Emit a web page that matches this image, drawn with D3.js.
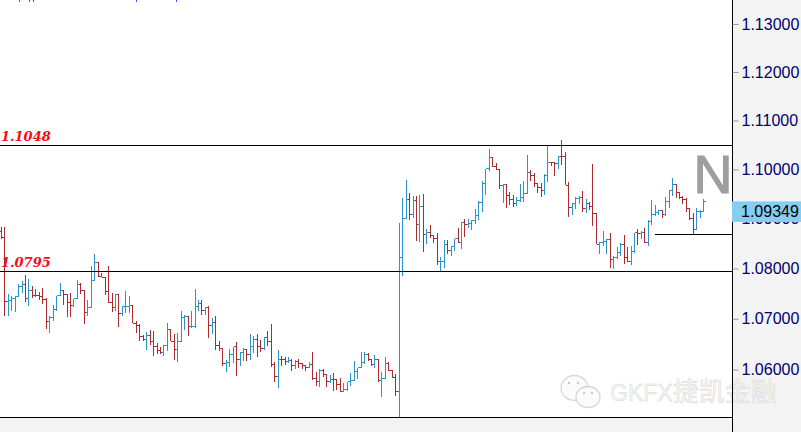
<!DOCTYPE html>
<html>
<head>
<meta charset="utf-8">
<script src="https://cdn.jsdelivr.net/npm/d3@7"></script>
<style>
  html, body { margin: 0; padding: 0; background: #f3f3f3; overflow: hidden; }
  svg { display: block; }
  .axis text { font-family: "Liberation Sans", Arial, sans-serif; font-size: 16px; fill: #000070; }
  .axis .tick line { stroke: #999; }
  .axis .domain { stroke: #000; }
</style>
</head>
<body>
<svg id="chart" width="801" height="432"></svg>
<script>
var opens = [
  1.0875,1.0862,1.0734,1.0736,1.0740,1.0744,1.0764,1.0768,1.0740,1.0756,
  1.0747,1.0746,1.0744,1.0739,1.0694,1.0702,1.0718,1.0746,1.0757,1.0748,
  1.0732,1.0726,1.0740,1.0768,1.0756,1.0712,1.0723,1.0777,1.0812,1.0784,
  1.0783,1.0755,1.0733,1.0723,1.0749,1.0710,1.0724,1.0725,1.0727,1.0691,
  1.0687,1.0665,1.0660,1.0667,1.0655,1.0645,1.0637,1.0633,1.0648,1.0679,
  1.0656,1.0639,1.0656,1.0702,1.0705,1.0684,1.0684,1.0724,1.0731,1.0716,
  1.0722,1.0687,1.0692,1.0648,1.0642,1.0611,1.0614,1.0629,1.0645,1.0619,
  1.0634,1.0639,1.0629,1.0645,1.0660,1.0645,1.0641,1.0662,1.0656,1.0609,
  1.0587,1.0620,1.0619,1.0616,1.0617,1.0607,1.0616,1.0611,1.0607,1.0604,
  1.0609,1.0582,1.0577,1.0598,1.0591,1.0577,1.0581,1.0580,1.0571,1.0557,
  1.0561,1.0576,1.0579,1.0596,1.0603,1.0613,1.0629,1.0619,1.0609,1.0619,
  1.0578,1.0583,1.0611,1.0599,1.0585,1.0557,1.0823,1.0900,1.0939,1.0908,
  1.0937,1.0888,1.0924,1.0868,1.0872,1.0866,1.0860,1.0815,1.0815,1.0849,
  1.0836,1.0845,1.0860,1.0852,1.0893,1.0888,1.0890,1.0896,1.0906,1.0932,
  1.0972,1.1001,1.1024,1.1005,1.1000,1.0967,1.0970,1.0947,1.0939,1.0931,
  1.0936,1.0943,1.0951,1.0993,1.0987,1.0972,1.0964,1.0957,1.0988,1.1014,
  1.1013,1.1012,1.1027,1.1026,1.0968,1.0922,1.0930,1.0941,1.0942,1.0920,
  1.0930,1.0924,1.0910,1.0849,1.0853,1.0855,1.0858,1.0819,1.0822,1.0833,
  1.0849,1.0822,1.0815,1.0835,1.0872,1.0871,1.0873,1.0853,1.0895,1.0909,
  1.0912,1.0917,1.0908,1.0935,1.0957,1.0970,1.0954,1.0942,1.0939,1.0920,
  1.0900,1.0879,1.0914,1.0915
]
var highs = [
  1.0884,1.0883,1.0749,1.0746,1.0746,1.0769,1.0776,1.0788,1.0779,1.0766,
  1.0759,1.0753,1.0761,1.0741,1.0705,1.0728,1.0746,1.0771,1.0757,1.0749,
  1.0752,1.0740,1.0777,1.0772,1.0757,1.0738,1.0805,1.0829,1.0813,1.0792,
  1.0784,1.0806,1.0752,1.0749,1.0749,1.0726,1.0756,1.0745,1.0728,1.0695,
  1.0689,1.0667,1.0674,1.0677,1.0676,1.0652,1.0644,1.0648,1.0691,1.0680,
  1.0670,1.0671,1.0716,1.0708,1.0705,1.0715,1.0759,1.0738,1.0738,1.0723,
  1.0726,1.0702,1.0706,1.0657,1.0642,1.0619,1.0640,1.0645,1.0655,1.0635,
  1.0642,1.0641,1.0669,1.0665,1.0670,1.0658,1.0664,1.0675,1.0689,1.0614,
  1.0639,1.0627,1.0625,1.0624,1.0621,1.0619,1.0621,1.0612,1.0607,1.0615,
  1.0635,1.0595,1.0601,1.0601,1.0591,1.0589,1.0593,1.0581,1.0583,1.0574,
  1.0576,1.0593,1.0617,1.0603,1.0635,1.0635,1.0632,1.0619,1.0629,1.0619,
  1.0596,1.0625,1.0615,1.0599,1.0591,1.0892,1.0941,1.0979,1.0953,1.0945,
  1.0945,1.0947,1.0949,1.0879,1.0887,1.0866,1.0872,1.0824,1.0858,1.0858,
  1.0846,1.0860,1.0881,1.0893,1.0899,1.0900,1.0897,1.0920,1.0935,1.0976,
  1.1001,1.1041,1.1024,1.1013,1.1000,1.0971,1.0970,1.0955,1.0947,1.0943,
  1.0970,1.0976,1.1030,1.0998,1.0993,1.0972,1.0972,1.0990,1.1048,1.1016,
  1.1013,1.1028,1.1059,1.1036,1.0974,1.0932,1.0944,1.0946,1.0957,1.0939,
  1.0934,1.1010,1.0912,1.0854,1.0876,1.0860,1.0871,1.0826,1.0843,1.0852,
  1.0868,1.0843,1.0846,1.0872,1.0880,1.0876,1.0882,1.0897,1.0937,1.0927,
  1.0918,1.0917,1.0943,1.0959,1.0983,1.0970,1.0954,1.0946,1.0941,1.0922,
  1.0912,1.0922,1.0918,1.0939
]
var lows = [
  1.0860,1.0705,1.0705,1.0716,1.0714,1.0743,1.0751,1.0733,1.0725,1.0742,
  1.0743,1.0738,1.0730,1.0679,1.0672,1.0695,1.0715,1.0746,1.0728,1.0703,
  1.0703,1.0723,1.0740,1.0749,1.0689,1.0705,1.0723,1.0777,1.0783,1.0783,
  1.0748,1.0732,1.0713,1.0716,1.0683,1.0706,1.0711,1.0712,1.0691,1.0671,
  1.0657,1.0656,1.0639,1.0649,1.0627,1.0631,1.0631,1.0627,1.0637,1.0656,
  1.0619,1.0614,1.0655,1.0677,1.0665,1.0682,1.0682,1.0715,1.0707,1.0707,
  1.0662,1.0669,1.0639,1.0637,1.0606,1.0596,1.0604,1.0612,1.0588,1.0607,
  1.0617,1.0617,1.0619,1.0632,1.0624,1.0634,1.0639,1.0647,1.0604,1.0575,
  1.0563,1.0606,1.0609,1.0612,1.0598,1.0601,1.0603,1.0601,1.0598,1.0602,
  1.0580,1.0568,1.0566,1.0586,1.0566,1.0574,1.0558,1.0560,1.0555,1.0555,
  1.0558,1.0568,1.0579,1.0582,1.0603,1.0611,1.0617,1.0607,1.0603,1.0576,
  1.0546,1.0583,1.0598,1.0583,1.0548,1.0506,1.0785,1.0900,1.0897,1.0901,
  1.0856,1.0853,1.0833,1.0849,1.0861,1.0851,1.0808,1.0793,1.0802,1.0830,
  1.0826,1.0835,1.0851,1.0839,1.0864,1.0881,1.0877,1.0890,1.0897,1.0914,
  1.0947,1.0997,1.1005,1.0998,1.0960,1.0932,1.0921,1.0928,1.0924,1.0925,
  1.0934,1.0934,1.0951,1.0976,1.0964,1.0953,1.0944,1.0947,1.0974,1.1007,
  1.0986,1.1000,1.1009,1.0968,1.0903,1.0907,1.0920,1.0929,1.0914,1.0912,
  1.0918,1.0885,1.0849,1.0829,1.0846,1.0829,1.0801,1.0800,1.0819,1.0826,
  1.0810,1.0814,1.0807,1.0831,1.0847,1.0860,1.0851,1.0845,1.0888,1.0905,
  1.0908,1.0902,1.0906,1.0922,1.0946,1.0941,1.0939,1.0930,1.0914,1.0898,
  1.0868,1.0879,1.0901,1.0914
]
var closes = [
  1.0862,1.0734,1.0736,1.0740,1.0744,1.0764,1.0768,1.0740,1.0756,1.0747,
  1.0746,1.0744,1.0739,1.0694,1.0702,1.0718,1.0746,1.0757,1.0748,1.0732,
  1.0726,1.0740,1.0768,1.0756,1.0712,1.0723,1.0777,1.0812,1.0784,1.0783,
  1.0755,1.0733,1.0723,1.0749,1.0710,1.0724,1.0725,1.0727,1.0691,1.0687,
  1.0665,1.0660,1.0667,1.0655,1.0645,1.0637,1.0633,1.0648,1.0679,1.0656,
  1.0639,1.0656,1.0702,1.0705,1.0684,1.0684,1.0724,1.0731,1.0716,1.0722,
  1.0687,1.0692,1.0648,1.0642,1.0611,1.0614,1.0629,1.0645,1.0619,1.0634,
  1.0639,1.0629,1.0645,1.0660,1.0645,1.0641,1.0662,1.0656,1.0609,1.0587,
  1.0620,1.0619,1.0616,1.0617,1.0607,1.0616,1.0611,1.0607,1.0604,1.0609,
  1.0582,1.0577,1.0598,1.0591,1.0577,1.0581,1.0580,1.0571,1.0557,1.0561,
  1.0576,1.0579,1.0596,1.0603,1.0613,1.0629,1.0619,1.0609,1.0619,1.0578,
  1.0583,1.0611,1.0599,1.0585,1.0557,1.0823,1.0900,1.0939,1.0908,1.0937,
  1.0888,1.0924,1.0868,1.0872,1.0866,1.0860,1.0815,1.0815,1.0849,1.0836,
  1.0845,1.0860,1.0852,1.0893,1.0888,1.0890,1.0896,1.0906,1.0932,1.0972,
  1.1001,1.1024,1.1005,1.1000,1.0967,1.0970,1.0947,1.0939,1.0931,1.0936,
  1.0943,1.0951,1.0993,1.0987,1.0972,1.0964,1.0957,1.0988,1.1014,1.1013,
  1.1012,1.1027,1.1026,1.0968,1.0922,1.0930,1.0941,1.0942,1.0920,1.0930,
  1.0924,1.0910,1.0849,1.0853,1.0855,1.0858,1.0819,1.0822,1.0833,1.0849,
  1.0822,1.0815,1.0835,1.0872,1.0871,1.0873,1.0853,1.0895,1.0909,1.0912,
  1.0917,1.0908,1.0935,1.0957,1.0970,1.0954,1.0942,1.0939,1.0920,1.0900,
  1.0879,1.0914,1.0915,1.0935
]
var tickValues = [1.13, 1.12, 1.11, 1.10, 1.09, 1.08, 1.07, 1.06]
var labelledLevels = [1.1048, 1.0795]
var bottomLevel = 1.0506
var neckLevel = 1.0868
var neckStartBar = 189
var lastPrice = 1.09349

var svg = d3.select('#chart')
var plotRight = 732

// chart is on a log price scale, upper ticks are a bit closer together
var yScale = d3.scaleLog().domain([1.13, 1.06]).range([24, 369.5])
var xScale = d3.scaleLinear().domain([0, opens.length - 1]).range([1.3, 703.7])
var px = function(v) { return Math.floor(v) + 0.5 }

// plot background
svg.append('rect')
  .attr('x', 0).attr('y', 0)
  .attr('width', plotRight).attr('height', yScale(bottomLevel))
  .attr('fill', '#fff')

// bits of a cut off header at the very top
svg.append('g').selectAll('rect')
  .data([19, 29, 33, 136, 176]).enter().append('rect')
    .attr('x', function(d) { return d }).attr('y', 0)
    .attr('width', 1).attr('height', 2)
    .attr('fill', '#5a3cf0')

// watermark
var mark = svg.append('g').attr('class', 'watermark')
mark.selectAll('ellipse')
  .data([[574.5, 388, 13.5, 12.5], [588, 397, 12, 10.5]]).enter().append('ellipse')
    .attr('cx', function(d) { return d[0] }).attr('cy', function(d) { return d[1] })
    .attr('rx', function(d) { return d[2] }).attr('ry', function(d) { return d[3] })
    .attr('fill', '#fbfbfb').attr('stroke', '#d8d8d8').attr('stroke-width', 1.3)
mark.selectAll('circle')
  .data([[569, 383], [578, 383], [584, 393], [592, 393]]).enter().append('circle')
    .attr('cx', function(d) { return d[0] }).attr('cy', function(d) { return d[1] })
    .attr('r', 1.2).attr('fill', '#c8c8c8')
var markText = mark.append('text')
  .attr('x', 610).attr('y', 401)
  .attr('fill', '#f6f6f6').attr('stroke', '#d6d6d6').attr('stroke-width', 0.5)
markText.append('tspan')
  .attr('font-family', '"Liberation Sans", Arial, sans-serif')
  .attr('font-size', 23)
  .text('GKFX')
markText.append('tspan')
  .attr('font-family', '"Noto Sans CJK SC", sans-serif')
  .attr('font-size', 26)
  .text('捷凯金融')

// bars
var bars = svg.append('g').attr('class', 'bars')
  .attr('shape-rendering', 'crispEdges')
  .selectAll('path')
  .data(opens).enter().append('path')
    .attr('fill', 'none')
    .attr('stroke-width', 1)
    .attr('stroke', function(d, i) { return closes[i] >= d ? '#2a94cc' : '#ad2a2f' })
    .attr('d', function(d, i) {
      var x = px(xScale(i))
      var path = d3.path()
      path.moveTo(x, Math.round(yScale(highs[i])))
      path.lineTo(x, Math.round(yScale(lows[i])))
      path.moveTo(x - 2, px(yScale(d)))
      path.lineTo(x, px(yScale(d)))
      path.moveTo(x, px(yScale(closes[i])))
      path.lineTo(x + 2, px(yScale(closes[i])))
      return path.toString()
    })

// horizontal levels
var levels = svg.append('g').attr('shape-rendering', 'crispEdges').attr('stroke', '#000')
levels.selectAll('line')
  .data(labelledLevels.concat(bottomLevel)).enter().append('line')
    .attr('x1', 0).attr('x2', plotRight)
    .attr('y1', function(d) { return px(yScale(d)) })
    .attr('y2', function(d) { return px(yScale(d)) })
levels.append('line')
  .attr('x1', xScale(neckStartBar)).attr('x2', plotRight)
  .attr('y1', px(yScale(neckLevel))).attr('y2', px(yScale(neckLevel)))

svg.append('g').selectAll('text')
  .data(labelledLevels).enter().append('text')
    .attr('x', 1)
    .attr('y', function(d) { return px(yScale(d)) - 5 })
    .attr('font-family', '"DejaVu Serif", serif')
    .attr('font-size', 13)
    .attr('font-weight', 'bold')
    .attr('font-style', 'italic')
    .attr('fill', '#fb0a14')
    .text(function(d) { return d.toFixed(4) })

// wave letter
svg.append('text')
  .attr('x', 693.5).attr('y', 193)
  .attr('font-family', '"Liberation Sans", Arial, sans-serif')
  .attr('font-size', 54)
  .attr('fill', '#9e9e9e')
  .attr('stroke', '#9e9e9e')
  .attr('stroke-width', 1.2)
  .text('N')

// price axis
var axis = svg.append('g')
  .attr('class', 'axis')
  .attr('transform', 'translate(' + (plotRight + 0.5) + ',0)')
  .call(d3.axisRight(yScale).tickValues(tickValues).tickFormat(d3.format('.5f')).tickSize(6).tickPadding(3))
axis.select('.domain').attr('d', 'M0,0V432')

// last price tag, hangs below the price level
var tagTop = yScale(lastPrice)
svg.append('rect')
  .attr('x', plotRight).attr('y', tagTop)
  .attr('width', 801 - plotRight).attr('height', 20.5)
  .attr('fill', '#84cef2')
svg.append('text')
  .attr('x', plotRight + 9).attr('y', tagTop + 16)
  .attr('font-family', '"Liberation Sans", Arial, sans-serif')
  .attr('font-size', 16)
  .attr('fill', '#000')
  .text(lastPrice.toFixed(5))
</script>
</body>
</html>
